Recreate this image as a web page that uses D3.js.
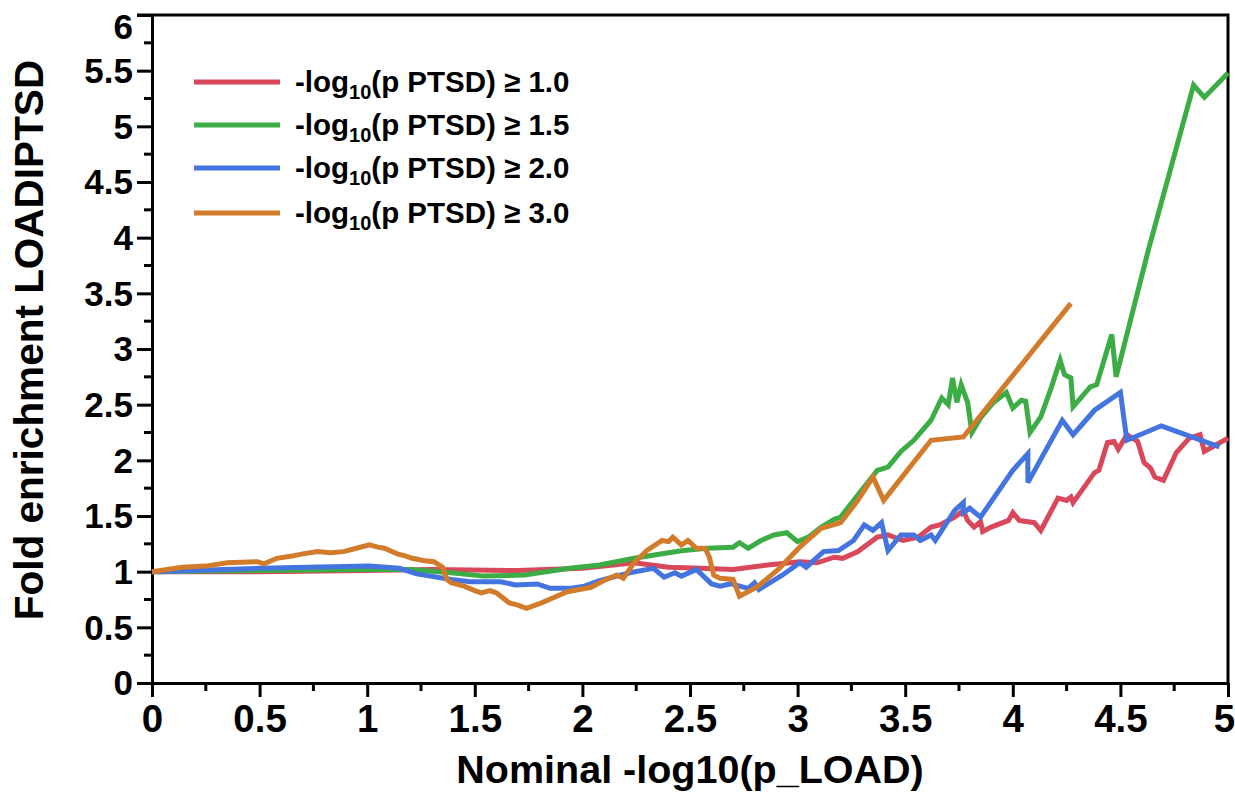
<!DOCTYPE html>
<html>
<head>
<meta charset="utf-8">
<script src="https://cdn.jsdelivr.net/npm/d3@7"></script>
<style>
  body { margin: 0; background: #fff; }
  svg text { font-family: "Liberation Sans", Arial, Helvetica, sans-serif; font-weight: bold; fill: #000; }
</style>
</head>
<body>
<div id="chart"></div>
<script>
// series: [nominal -log10(p_LOAD), fold enrichment]
const seriesNames = ["1.0", "1.5", "2.0", "3.0"];
const seriesColors = ["#d9475b", "#3cad45", "#4474e0", "#d17b2b"];

const red = [[0,1.0],[0.5,1.0],[1.0,1.01],[1.3,1.02],[1.7,1.01],[2.0,1.03],[2.24,1.08],[2.40,1.04],[2.55,1.03],[2.70,1.02],[2.86,1.06],[3.01,1.09],[3.09,1.08],[3.17,1.13],[3.21,1.12],[3.28,1.18],[3.37,1.31],[3.42,1.33],[3.49,1.28],[3.56,1.31],[3.62,1.40],[3.66,1.42],[3.73,1.49],[3.77,1.55],[3.79,1.46],[3.82,1.40],[3.85,1.45],[3.86,1.36],[3.90,1.40],[3.98,1.46],[4.00,1.53],[4.03,1.46],[4.10,1.44],[4.13,1.37],[4.21,1.66],[4.25,1.64],[4.27,1.67],[4.28,1.62],[4.38,1.89],[4.40,1.91],[4.44,2.16],[4.47,2.17],[4.49,2.10],[4.53,2.23],[4.58,2.17],[4.61,1.98],[4.64,1.93],[4.66,1.85],[4.70,1.82],[4.76,2.07],[4.82,2.20],[4.87,2.23],[4.89,2.08],[5.0,2.2]];

const green = [[0,1.0],[0.5,1.01],[1.0,1.02],[1.2,1.02],[1.39,0.99],[1.54,0.96],[1.73,0.97],[1.94,1.03],[2.08,1.06],[2.24,1.12],[2.40,1.17],[2.47,1.19],[2.58,1.21],[2.70,1.22],[2.73,1.26],[2.77,1.21],[2.83,1.28],[2.89,1.33],[2.95,1.35],[3.00,1.27],[3.05,1.31],[3.11,1.40],[3.17,1.47],[3.20,1.49],[3.26,1.64],[3.37,1.91],[3.42,1.94],[3.48,2.08],[3.54,2.18],[3.62,2.36],[3.67,2.56],[3.70,2.50],[3.72,2.74],[3.74,2.52],[3.76,2.68],[3.79,2.52],[3.81,2.25],[3.85,2.38],[3.91,2.52],[3.97,2.61],[4.00,2.47],[4.04,2.54],[4.06,2.53],[4.08,2.25],[4.13,2.39],[4.18,2.66],[4.22,2.90],[4.24,2.77],[4.27,2.74],[4.28,2.48],[4.36,2.66],[4.39,2.68],[4.46,3.13],[4.48,2.75],[4.63,3.89],[4.84,5.37],[4.89,5.26],[5.0,5.48]];

const blue = [[0,1.0],[0.5,1.03],[1.01,1.05],[1.15,1.03],[1.23,0.98],[1.39,0.93],[1.48,0.91],[1.62,0.91],[1.69,0.88],[1.79,0.89],[1.85,0.85],[1.94,0.85],[2.01,0.87],[2.08,0.92],[2.22,0.99],[2.33,1.03],[2.38,0.95],[2.43,0.99],[2.46,0.96],[2.53,1.02],[2.60,0.89],[2.64,0.87],[2.69,0.89],[2.77,0.85],[2.80,0.90],[2.82,0.84],[2.93,0.97],[3.01,1.08],[3.04,1.04],[3.12,1.18],[3.19,1.19],[3.26,1.28],[3.31,1.42],[3.35,1.37],[3.39,1.44],[3.42,1.19],[3.48,1.33],[3.54,1.33],[3.57,1.28],[3.62,1.33],[3.64,1.28],[3.73,1.55],[3.77,1.62],[3.77,1.53],[3.80,1.57],[3.85,1.49],[4.00,1.91],[4.07,2.06],[4.07,1.80],[4.23,2.36],[4.28,2.23],[4.38,2.45],[4.50,2.61],[4.53,2.18],[4.69,2.31],[4.96,2.12]];

const orange = [[0,1.0],[0.07,1.02],[0.14,1.04],[0.25,1.05],[0.35,1.08],[0.49,1.09],[0.52,1.07],[0.58,1.12],[0.65,1.14],[0.70,1.16],[0.77,1.18],[0.83,1.17],[0.89,1.18],[0.95,1.21],[1.01,1.24],[1.05,1.22],[1.08,1.21],[1.14,1.16],[1.18,1.14],[1.21,1.12],[1.26,1.10],[1.31,1.09],[1.35,1.04],[1.37,0.93],[1.39,0.90],[1.45,0.87],[1.50,0.83],[1.53,0.81],[1.57,0.83],[1.60,0.81],[1.66,0.72],[1.70,0.70],[1.74,0.67],[1.81,0.72],[1.87,0.77],[1.93,0.82],[2.04,0.86],[2.10,0.92],[2.16,0.97],[2.19,0.94],[2.24,1.08],[2.30,1.19],[2.37,1.28],[2.40,1.27],[2.42,1.31],[2.46,1.24],[2.49,1.28],[2.53,1.21],[2.57,1.21],[2.59,1.13],[2.61,0.97],[2.64,0.94],[2.70,0.93],[2.73,0.78],[2.81,0.86],[2.91,1.02],[3.01,1.22],[3.11,1.39],[3.20,1.44],[3.28,1.64],[3.35,1.85],[3.40,1.64],[3.62,2.18],[3.77,2.21],[4.27,3.41]];

const allSeries = [red, green, blue, orange];

const xTicks = [0, 0.5, 1, 1.5, 2, 2.5, 3, 3.5, 4, 4.5, 5];
const yTicks = [0, 0.5, 1, 1.5, 2, 2.5, 3, 3.5, 4, 4.5, 5, 5.5, 6];
const xMinor = d3.range(0.25, 5, 0.5);
const yMinor = d3.range(0.25, 6, 0.5);

const W = 1235, H = 792;
const pLeft = 152, pRight = 1228, pTop = 15, pBottom = 683;

const svg = d3.select("#chart").append("svg")
    .attr("width", W)
    .attr("height", H);

const x = d3.scaleLinear().domain([0, 5]).range([pLeft, pRight]);
const y = d3.scaleLinear().domain([0, 6]).range([pBottom, pTop]);

// frame: top and right edges
svg.append("path")
    .attr("d", `M${pLeft - 15},${pTop} H${pRight} V${pBottom}`)
    .attr("fill", "none")
    .attr("stroke", "#000")
    .attr("stroke-width", 3);

// x axis
const xAxis = svg.append("g").attr("transform", `translate(0,${pBottom})`);
xAxis.call(d3.axisBottom(x).tickValues(xTicks).tickSize(14).tickSizeOuter(0).tickFormat(d3.format("")));
xAxis.selectAll(".tick text")
    .attr("y", 22)
    .attr("dy", "0.71em")
    .attr("dx", d => d === 5 ? -4 : 0)
    .style("font-size", "38.5px");
xAxis.append("g").selectAll("line")
    .data(xMinor)
    .enter().append("line")
    .attr("x1", d => x(d)).attr("x2", d => x(d))
    .attr("y1", 0).attr("y2", 8)
    .attr("stroke", "#000").attr("stroke-width", 3);

// y axis
const yAxis = svg.append("g").attr("transform", `translate(${pLeft},0)`);
yAxis.call(d3.axisLeft(y).tickValues(yTicks).tickSize(15).tickSizeOuter(0).tickFormat(d3.format("")));
yAxis.selectAll(".tick text")
    .attr("x", -19)
    .attr("dy", d => d === 6 ? "0.68em" : "0.34em")
    .style("font-size", "35px");
yAxis.append("g").selectAll("line")
    .data(yMinor)
    .enter().append("line")
    .attr("y1", d => y(d)).attr("y2", d => y(d))
    .attr("x1", 0).attr("x2", -8)
    .attr("stroke", "#000").attr("stroke-width", 3);

svg.selectAll(".domain").attr("stroke-width", 3);
svg.selectAll(".tick line").attr("stroke-width", 3);

// axis titles
svg.append("text")
    .attr("x", 690)
    .attr("y", 783)
    .attr("text-anchor", "middle")
    .style("font-size", "39.5px")
    .text("Nominal -log10(p_LOAD)");

svg.append("text")
    .attr("transform", `translate(43, 340) rotate(-90)`)
    .attr("text-anchor", "middle")
    .style("font-size", "40.5px")
    .text("Fold enrichment LOADIPTSD");

// lines
const line = d3.line()
    .x(d => x(d[0]))
    .y(d => y(d[1]));

svg.selectAll(".series")
    .data(allSeries)
    .enter().append("path")
    .attr("class", "series")
    .attr("d", line)
    .attr("fill", "none")
    .attr("stroke", (d, i) => seriesColors[i])
    .attr("stroke-width", 5);

// legend
const legendY = [82, 125, 168, 213];
const legend = svg.selectAll(".legend")
    .data(seriesNames)
    .enter().append("g")
    .attr("class", "legend")
    .attr("transform", (d, i) => `translate(194, ${legendY[i]})`);

legend.append("line")
    .attr("x1", 0).attr("x2", 86)
    .attr("stroke", (d, i) => seriesColors[i])
    .attr("stroke-width", 5);

const lt = legend.append("text")
    .attr("x", 101)
    .attr("y", 10)
    .style("font-size", "29.5px");
lt.append("tspan").text("-log");
lt.append("tspan").attr("dy", 7).style("font-size", "20px").text("10");
lt.append("tspan").attr("dy", -7).text(d => `(p PTSD) \u2265 ${d}`);
</script>
</body>
</html>
